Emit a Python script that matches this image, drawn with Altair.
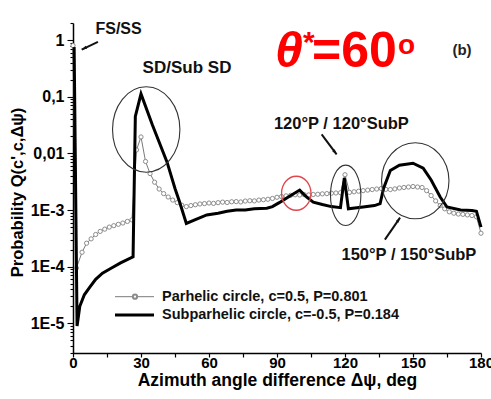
import altair as alt
import pandas as pd

FONT = "Liberation Sans"

# ---------------- data ----------------
# Parhelic circle, c=0.5, P=0.801  (thin grey line with open circles)
par_x = [0, 1.5, 4, 6, 8, 10, 12, 14, 16, 18, 20, 22, 24, 26, 28, 30, 32, 34, 36, 38,
         40, 42, 44, 46, 48, 50, 52, 54, 56, 58, 60, 62, 64, 66, 68, 70, 72, 74, 76, 78,
         80, 82, 84, 86, 88, 90, 92, 94, 96, 98, 100, 102, 104, 106, 108, 110, 112, 114, 116, 118,
         120, 122, 124, 126, 128, 130, 132, 134, 136, 138, 140, 142, 144, 146, 148, 150, 152, 154, 156, 158,
         160, 162, 164, 166, 168, 170, 172, 174, 176, 178, 180]
par_y = [0.8, 9.5e-5, 1.8e-4, 2.6e-4, 3.1e-4, 3.7e-4, 4.2e-4, 4.6e-4, 5.0e-4, 5.3e-4,
         5.6e-4, 5.9e-4, 6.3e-4, 6.7e-4, 1.15e-2, 1.95e-2, 7.2e-3, 4.4e-3, 3.1e-3, 2.35e-3,
         1.95e-3, 1.7e-3, 1.5e-3, 1.35e-3, 1.22e-3, 1.15e-3, 1.2e-3, 1.24e-3, 1.28e-3, 1.3e-3,
         1.33e-3, 1.31e-3, 1.35e-3, 1.38e-3, 1.36e-3, 1.4e-3, 1.41e-3, 1.39e-3, 1.44e-3, 1.46e-3,
         1.45e-3, 1.5e-3, 1.52e-3, 1.55e-3, 1.6e-3, 1.68e-3, 1.73e-3, 1.78e-3, 1.82e-3, 1.86e-3,
         1.84e-3, 1.87e-3, 1.85e-3, 1.88e-3, 1.9e-3, 1.93e-3, 1.95e-3, 1.98e-3, 2.0e-3, 2.02e-3,
         4.2e-3, 2.05e-3, 2.1e-3, 2.15e-3, 2.2e-3, 2.25e-3, 2.3e-3, 2.35e-3, 2.4e-3, 2.32e-3,
         2.3e-3, 2.36e-3, 2.45e-3, 2.5e-3, 2.55e-3, 2.6e-3, 2.55e-3, 2.5e-3, 2.2e-3, 1.8e-3,
         1.45e-3, 1.2e-3, 1.05e-3, 9.3e-4, 8.8e-4, 8.5e-4, 8.4e-4, 8.2e-4, 8.0e-4, 7.6e-4, 3.9e-4]

# Subparhelic circle, c=-0.5, P=0.184  (thick black line)
sub_x = [0.5, 1.8, 3, 5, 7.5, 10, 13, 17, 21, 26.5, 27.5, 30, 35, 41.5, 45, 47, 50, 54, 59, 64,
         68, 72, 76, 80, 85.5, 88, 91, 95, 100, 103, 106, 110, 114, 118, 119.7, 121.5, 128, 133, 135.5, 137,
         140, 144, 150, 154.5, 158, 162, 165, 171, 176, 178, 180]
sub_y = [0.75, 9e-6, 2e-5, 3.2e-5, 4.4e-5, 6e-5, 7.7e-5, 9.5e-5, 1.17e-4, 1.5e-4, 4.5e-2, 0.112, 3.2e-2,
         7e-3, 2.4e-3, 1.4e-3, 5.8e-4, 6.8e-4, 8.2e-4, 8.8e-4, 9.5e-4, 1.0e-3, 1.0e-3, 1.05e-3, 1.08e-3,
         1.15e-3, 1.35e-3, 1.7e-3, 2.25e-3, 1.7e-3, 1.38e-3, 1.25e-3, 1.15e-3, 1.1e-3, 3.7e-3, 1.05e-3,
         1.13e-3, 1.2e-3, 1.3e-3, 2.4e-3, 5e-3, 6.2e-3, 6.7e-3, 5.5e-3, 3.4e-3, 1.7e-3, 1.13e-3, 1.0e-3,
         9.8e-4, 9.5e-4, 5e-4]

# axis ticks / labels
x_ticks = [0, 15, 30, 45, 60, 75, 90, 105, 120, 135, 150, 165, 180]
y_decades = [1e-5, 1e-4, 1e-3, 1e-2, 1e-1, 1]
y_labels = ["1E-5", "1E-4", "1E-3", "0,01", "0,1", "1"]
y_minor = [3e-6, 4e-6, 5e-6, 6e-6, 7e-6, 8e-6, 9e-6,
           2e-5, 3e-5, 4e-5, 5e-5, 6e-5, 7e-5, 8e-5, 9e-5,
           2e-4, 3e-4, 4e-4, 5e-4, 6e-4, 7e-4, 8e-4, 9e-4,
           2e-3, 3e-3, 4e-3, 5e-3, 6e-3, 7e-3, 8e-3, 9e-3,
           0.02, 0.03, 0.04, 0.05, 0.06, 0.07, 0.08, 0.09,
           0.2, 0.3, 0.4, 0.5, 0.6, 0.7, 0.8, 0.9, 2]

# annotation anchors (data coordinates)
ell_x = [32.3, 98.5, 120.3, 151.0]
ell_y = [0.0264, 1.98e-3, 1.82e-3, 3.28e-3]
note_text = ["FS/SS", "SD/Sub SD", "120°P / 120°SubP", "150°P / 150°SubP"]
note_x = [20.1, 50.3, 118.4, 148.2]
note_y = [1.55, 0.316, 0.0324, 1.64e-4]
arrow_x = [11.0, 109.7, 137.6]
arrow_y = [0.93, 0.0216, 3.0e-4]
arrow_x2 = [3.84, 116.3, 144.3]
arrow_y2 = [0.68, 9.6e-3, 7.36e-4]
arrow_angle = [245, 143, 34]

# ---------------- chart ----------------
W, H = 408, 330

label_expr = " : ".join(
    f"abs(datum.value/{v} - 1) < 1e-6 ? '{t}'" for v, t in zip(y_decades, y_labels)
) + " : ''"
decade_test = "abs(log(datum.value)/LN10 - round(log(datum.value)/LN10)) < 1e-6"

x_enc = alt.X("x:Q", scale=alt.Scale(domain=[0, 180], nice=False, zero=False),
              axis=alt.Axis(values=x_ticks, labelExpr="datum.value % 30 == 0 ? datum.label : ''",
                            title="Azimuth angle difference Δψ, deg", titleFontSize=17.5,
                            titleFont=FONT, titleFontWeight="bold", titleColor="black",
                            titleBaseline="middle", titleY=27.5,
                            labelFont=FONT, labelFontSize=15, labelFontWeight="bold", labelColor="black",
                            labelPadding=-1.5, labelFlush=False, labelOverlap=False, tickSize=4,
                            tickWidth=1.2, tickColor="black", domainColor="black", domainWidth=1.5,
                            grid=False, format="d"))
y_enc = alt.Y("y:Q", scale=alt.Scale(type="log", domain=[3e-6, 2], nice=False),
              axis=alt.Axis(values=y_decades + y_minor, labelExpr=label_expr,
                            title="Probability Q(c',c,Δψ)", titleFontSize=16.5, titleFont=FONT,
                            titleFontWeight="bold", titleColor="black", titleAngle=270,
                            titleX=-56, titleY=169, titleBaseline="middle", titleAlign="center",
                            labelFont=FONT, labelFontSize=16, labelFontWeight="bold", labelColor="black",
                            labelPadding=3, labelOverlap=False, labelFlush=False,
                            tickSize={"condition": {"test": decade_test, "value": 6}, "value": 3},
                            tickWidth=1.1, tickColor="black", domainColor="black", domainWidth=1.5,
                            grid=False))

par = pd.DataFrame({"x": par_x, "y": par_y})
sub = pd.DataFrame({"x": sub_x, "y": sub_y})

par_line = alt.Chart(par).mark_line(color="#7a7a7a", strokeWidth=1).encode(x=x_enc, y=y_enc)
par_pts = alt.Chart(par).mark_point(shape="circle", size=18, filled=False, stroke="#8c8c8c",
                                    fill="white", fillOpacity=1, strokeWidth=1, opacity=1).encode(x=x_enc, y=y_enc)
sub_line = alt.Chart(sub).mark_line(color="black", strokeWidth=3).encode(x=x_enc, y=y_enc)


def ellipse_path(a):
    k = 0.5523
    return (f"M{a},0 C{a},{k} {a*k:.4f},1 0,1 C{-a*k:.4f},1 {-a},{k} {-a},0 "
            f"C{-a},{-k} {-a*k:.4f},-1 0,-1 C{a*k:.4f},-1 {a},{-k} {a},0 Z")


ell_style = [  # aspect (rx/ry), size ((2*ry)^2), colour, width
    (0.789, 7293, "#333333", 1.1),
    (0.865, 1156, "#e0474c", 1.3),
    (0.503, 3648, "#333333", 1.1),
    (0.887, 5776, "#333333", 1.1),
]
ellipses = []
for i, (asp, sz, col, sw) in enumerate(ell_style):
    d = pd.DataFrame({"x": [ell_x[i]], "y": [ell_y[i]]})
    ellipses.append(
        alt.Chart(d).mark_point(shape=ellipse_path(asp), size=sz, filled=False, stroke=col,
                                strokeWidth=sw, opacity=1).encode(x=x_enc, y=y_enc)
    )

note_style = [16, 17, 16.5, 16.5]
notes = []
for i, fs in enumerate(note_style):
    d = pd.DataFrame({"x": [note_x[i]], "y": [note_y[i]], "t": [note_text[i]]})
    notes.append(alt.Chart(d).mark_text(font=FONT, fontSize=fs, fontWeight="bold", color="#111",
                                        align="center", baseline="middle")
                 .encode(x=x_enc, y=y_enc, text="t:N"))

arr = pd.DataFrame({"x": arrow_x, "y": arrow_y, "x2": arrow_x2, "y2": arrow_y2})
arrow_lines = alt.Chart(arr).mark_rule(color="#111", strokeWidth=2).encode(
    x=x_enc, y=y_enc, x2="x2:Q", y2="y2:Q")
heads = pd.DataFrame({"x": arrow_x2, "y": arrow_y2, "ang": arrow_angle})
arrow_heads = alt.Chart(heads).mark_point(shape="M0,0 L0.6,1.9 L-0.6,1.9 Z", size=30, filled=True,
                                          color="#111", opacity=1).encode(
    x=x_enc, y=y_enc, angle=alt.Angle("ang:Q", scale=None))

one = pd.DataFrame({"a": [0]})


def ptext(txt, x, y, fs, **kw):
    return alt.Chart(one).mark_text(text=txt, font=FONT, fontSize=fs, fontWeight="bold", **kw).encode(
        x=alt.value(x), y=alt.value(y))


RED = "#ff0000"
title_layers = [
    ptext("θ", 202, 43.7, 50, fontStyle="italic", color=RED, align="left", baseline="alphabetic"),
    ptext("*", 230, 29, 30, color=RED, align="left", baseline="alphabetic"),
    ptext("=60", 239, 43.7, 50, color=RED, align="left", baseline="alphabetic"),
    ptext("o", 325, 30.5, 28, color=RED, align="left", baseline="alphabetic"),
    ptext("(b)", 389, 27, 15, color="#222", align="center", baseline="middle"),
]

legend_layers = [
    alt.Chart(one).mark_rule(color="#7a7a7a", strokeWidth=1).encode(
        x=alt.value(42), x2=alt.value(81), y=alt.value(273.7)),
    alt.Chart(one).mark_point(shape="circle", size=18, filled=False, stroke="#8c8c8c", fill="white",
                              fillOpacity=1, opacity=1).encode(x=alt.value(62), y=alt.value(273.7)),
    ptext("Parhelic circle, c=0.5, P=0.801", 89, 274, 14.5, color="#111", align="left", baseline="middle"),
    alt.Chart(one).mark_rule(color="black", strokeWidth=3).encode(
        x=alt.value(42), x2=alt.value(81), y=alt.value(292)),
    ptext("Subparhelic circle, c=-0.5, P=0.184", 89, 292, 14.5, color="#111", align="left", baseline="middle"),
]

chart = alt.layer(
    par_line, par_pts, sub_line, *ellipses, arrow_lines, arrow_heads, *notes, *title_layers, *legend_layers
).properties(
    width=W, height=H,
    background="white",
    autosize=alt.AutoSizeParams(type="none"),
    padding={"left": 73, "top": 23, "right": 10, "bottom": 46},
).configure_view(stroke=None)

chart.save("out.html", embed_options={"renderer": "svg", "actions": False})
